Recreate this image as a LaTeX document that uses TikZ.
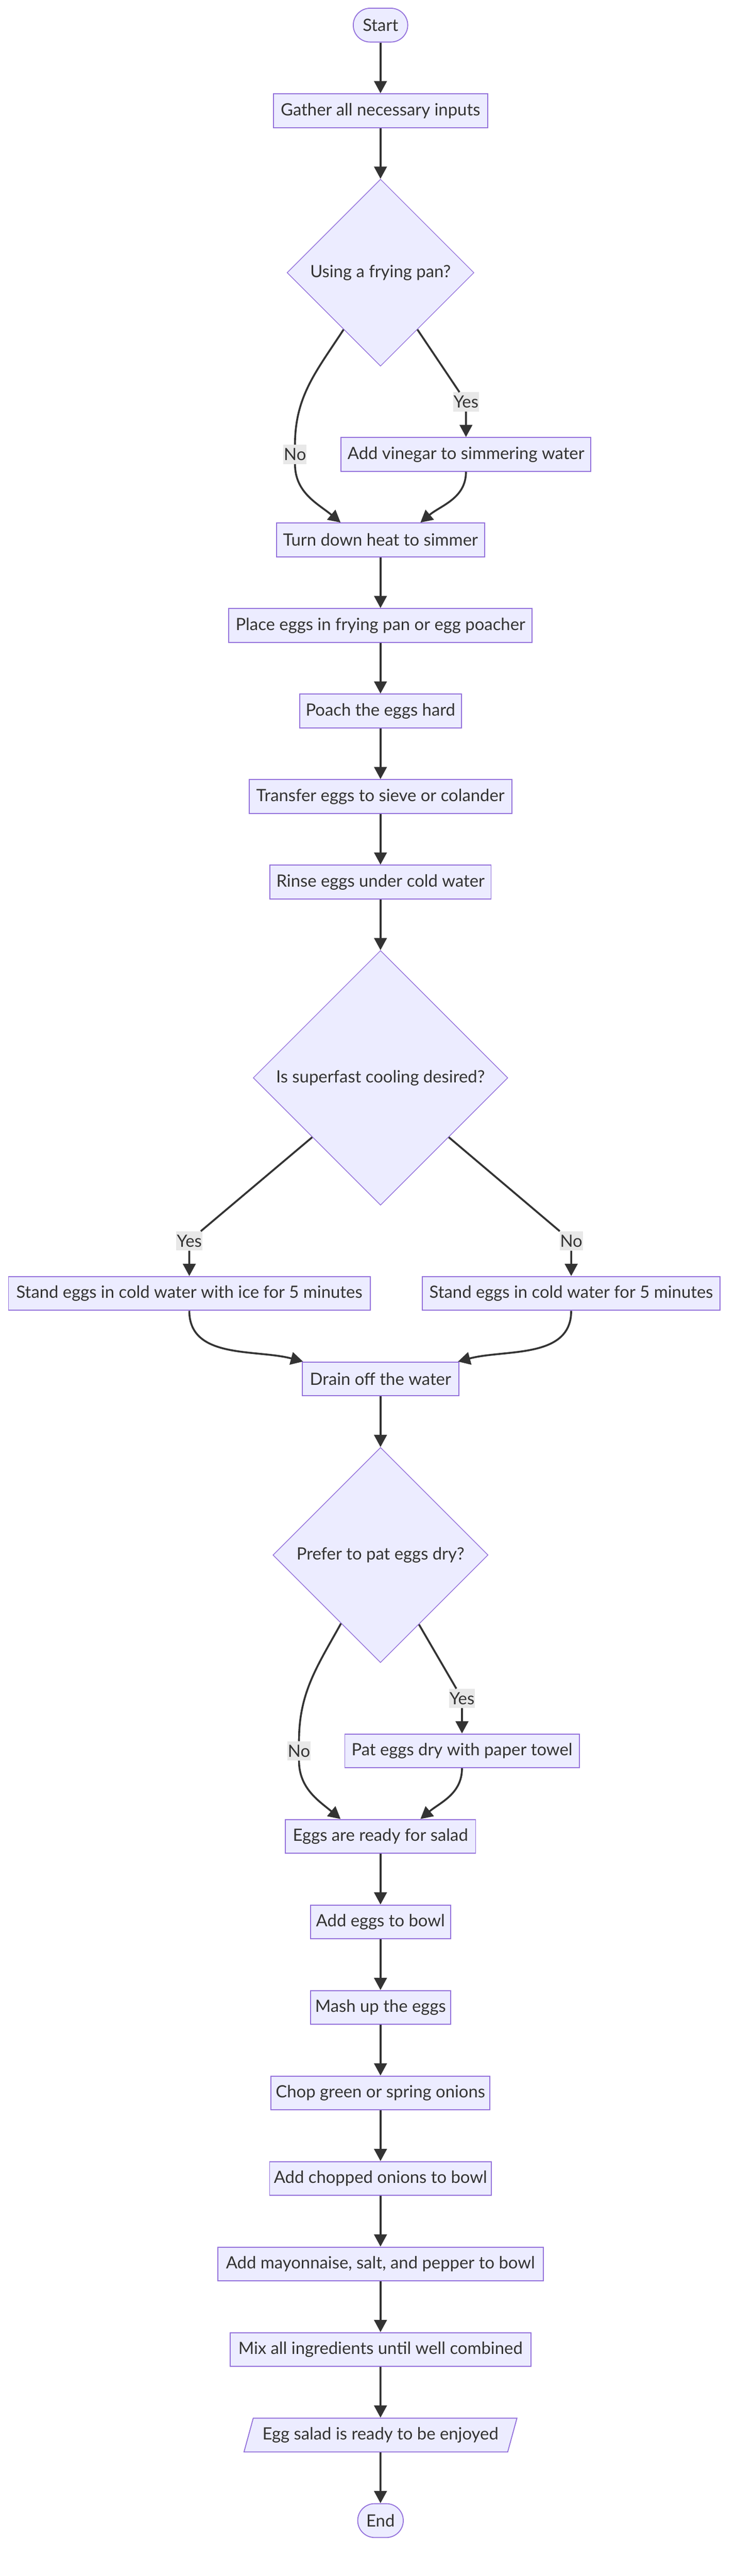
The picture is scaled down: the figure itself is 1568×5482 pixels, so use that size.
\documentclass[tikz,border=0pt]{standalone}
\usepackage{fontspec}
\setmainfont{Lato}
\usetikzlibrary{shapes.geometric, shapes.misc, arrows.meta, positioning}
\definecolor{boxfill}{HTML}{ECECFF}
\definecolor{boxline}{HTML}{9370DB}
\definecolor{ink}{HTML}{333333}
\definecolor{labelbg}{HTML}{E8E8E8}
\tikzset{
    process/.style={rectangle, minimum height=72pt, inner xsep=4pt, text centered, draw=boxline, fill=boxfill, line width=2pt, text=ink, font=\fontsize{36}{42}\selectfont},
    decision/.style={diamond, aspect=1, inner sep=0pt, text centered, draw=boxline, fill=boxfill, line width=1.5pt, text=ink, font=\fontsize{36}{42}\selectfont},
    terminal/.style={rounded rectangle, minimum height=72pt, inner xsep=4pt, draw=boxline, fill=boxfill, line width=2pt, text=ink, font=\fontsize{36}{42}\selectfont},
    io/.style={trapezium, trapezium left angle=65, trapezium right angle=115, trapezium stretches=true, minimum height=72pt, draw=boxline, fill=boxfill, line width=2pt, text=ink, font=\fontsize{36}{42}\selectfont},
    arrow/.style={-{Triangle[length=26pt, width=27pt]}, line width=4pt, draw=ink},
    edgelabel/.style={fill=labelbg, inner xsep=1pt, minimum height=41pt, text=ink, font=\fontsize{36}{42}\selectfont}
}

\begin{document}
\begin{tikzpicture}[x=1pt, y=1pt, node distance=108pt]
\useasboundingbox (0,0) rectangle (1568,-5482);

% Nodes
\node (start) [terminal, minimum width=124pt] at (810,-53.5) {Start};

\node (gather) [process, minimum width=456pt, below=of start] {Gather all necessary inputs};

\node (pan) [decision, minimum width=398pt, minimum height=398pt, below=of gather] {Using a frying pan?};

\node (vinegar) [process, minimum width=532pt, below=150pt of pan, xshift=182pt] {Add vinegar to simmering water};

\node (turn) [process, minimum width=443pt, below=332pt of pan] {Turn down heat to simmer};

\node (place) [process, minimum width=646pt, below=of turn] {Place eggs in frying pan or egg poacher};

\node (poach) [process, minimum width=344pt, below=of place] {Poach the eggs hard};

\node (transfer) [process, minimum width=559pt, below=of poach] {Transfer eggs to sieve or colander};

\node (rinse) [process, minimum width=471pt, below=of transfer] {Rinse eggs under cold water};

\node (cool) [decision, minimum width=542pt, minimum height=542pt, below=of rinse] {Is superfast cooling desired?};

\node (ice) [process, minimum width=770pt, below=150pt of cool, xshift=-407pt] {Stand eggs in cold water with ice for 5 minutes};

\node (noice) [process, minimum width=634pt, below=150pt of cool, xshift=406pt] {Stand eggs in cold water for 5 minutes};

\node (drain) [process, minimum width=333pt, below=332pt of cool] {Drain off the water};

\node (dry) [decision, minimum width=458pt, minimum height=458pt, below=of drain] {Prefer to pat eggs dry?};

\node (pat) [process, minimum width=499pt, below=150pt of dry, xshift=173.5pt] {Pat eggs dry with paper towel};

\node (ready) [process, minimum width=405pt, below=332pt of dry] {Eggs are ready for salad};

\node (bowl) [process, minimum width=298pt, below=of ready] {Add eggs to bowl};

\node (mash) [process, minimum width=298pt, below=of bowl] {Mash up the eggs};

\node (chop) [process, minimum width=466pt, below=of mash] {Chop green or spring onions};

\node (onions) [process, minimum width=472pt, below=of chop] {Add chopped onions to bowl};

\node (mayo) [process, minimum width=693pt, below=of onions] {Add mayonnaise, salt, and pepper to bowl};

\node (mix) [process, minimum width=640pt, below=of mayo] {Mix all ingredients until well combined};

\node (enjoy) [io, minimum width=586pt, below=of mix] {Egg salad is ready to be enjoyed};

\node (finish) [terminal, minimum width=105pt, below=of enjoy] {End};

% Edge labels
\node (panyes) [edgelabel, above=54pt of vinegar] {Yes};
\node (panno) [edgelabel] at ([xshift=-364pt]vinegar.center) {No};
\node (coolyes) [edgelabel, above=54pt of ice] {Yes};
\node (coolno) [edgelabel, above=54pt of noice] {No};
\node (dryyes) [edgelabel, above=54pt of pat] {Yes};
\node (dryno) [edgelabel] at ([xshift=-347pt]pat.center) {No};

% Arrows
\draw [arrow] (start) -- (gather);
\draw [arrow] (gather) -- (pan);
\draw [arrow] (pan.303) -- (panyes) -- (vinegar);
\draw [arrow] (pan.237) to[out=237, in=90] (panno) to[out=-90, in=140] ([xshift=-85pt]turn.north);
\draw [arrow] (vinegar) to[out=-90, in=40] ([xshift=85pt]turn.north);
\draw [arrow] (turn) -- (place);
\draw [arrow] (place) -- (poach);
\draw [arrow] (poach) -- (transfer);
\draw [arrow] (transfer) -- (rinse);
\draw [arrow] (rinse) -- (cool);
\draw [arrow] (cool.221) -- (coolyes) -- (ice);
\draw [arrow] (cool.319) -- (coolno) -- (noice);
\draw [arrow] (ice) to[out=-90, in=165] ([xshift=-165pt]drain.north);
\draw [arrow] (noice) to[out=-90, in=15] ([xshift=165pt]drain.north);
\draw [arrow] (drain) -- (dry);
\draw [arrow] (dry.299) -- (dryyes) -- (pat);
\draw [arrow] (dry.240) to[out=241, in=90] (dryno) to[out=-90, in=140] ([xshift=-85pt]ready.north);
\draw [arrow] (pat) to[out=-90, in=40] ([xshift=85pt]ready.north);
\draw [arrow] (ready) -- (bowl);
\draw [arrow] (bowl) -- (mash);
\draw [arrow] (mash) -- (chop);
\draw [arrow] (chop) -- (onions);
\draw [arrow] (onions) -- (mayo);
\draw [arrow] (mayo) -- (mix);
\draw [arrow] (mix) -- (enjoy);
\draw [arrow] (enjoy) -- (finish);

\end{tikzpicture}
\end{document}
